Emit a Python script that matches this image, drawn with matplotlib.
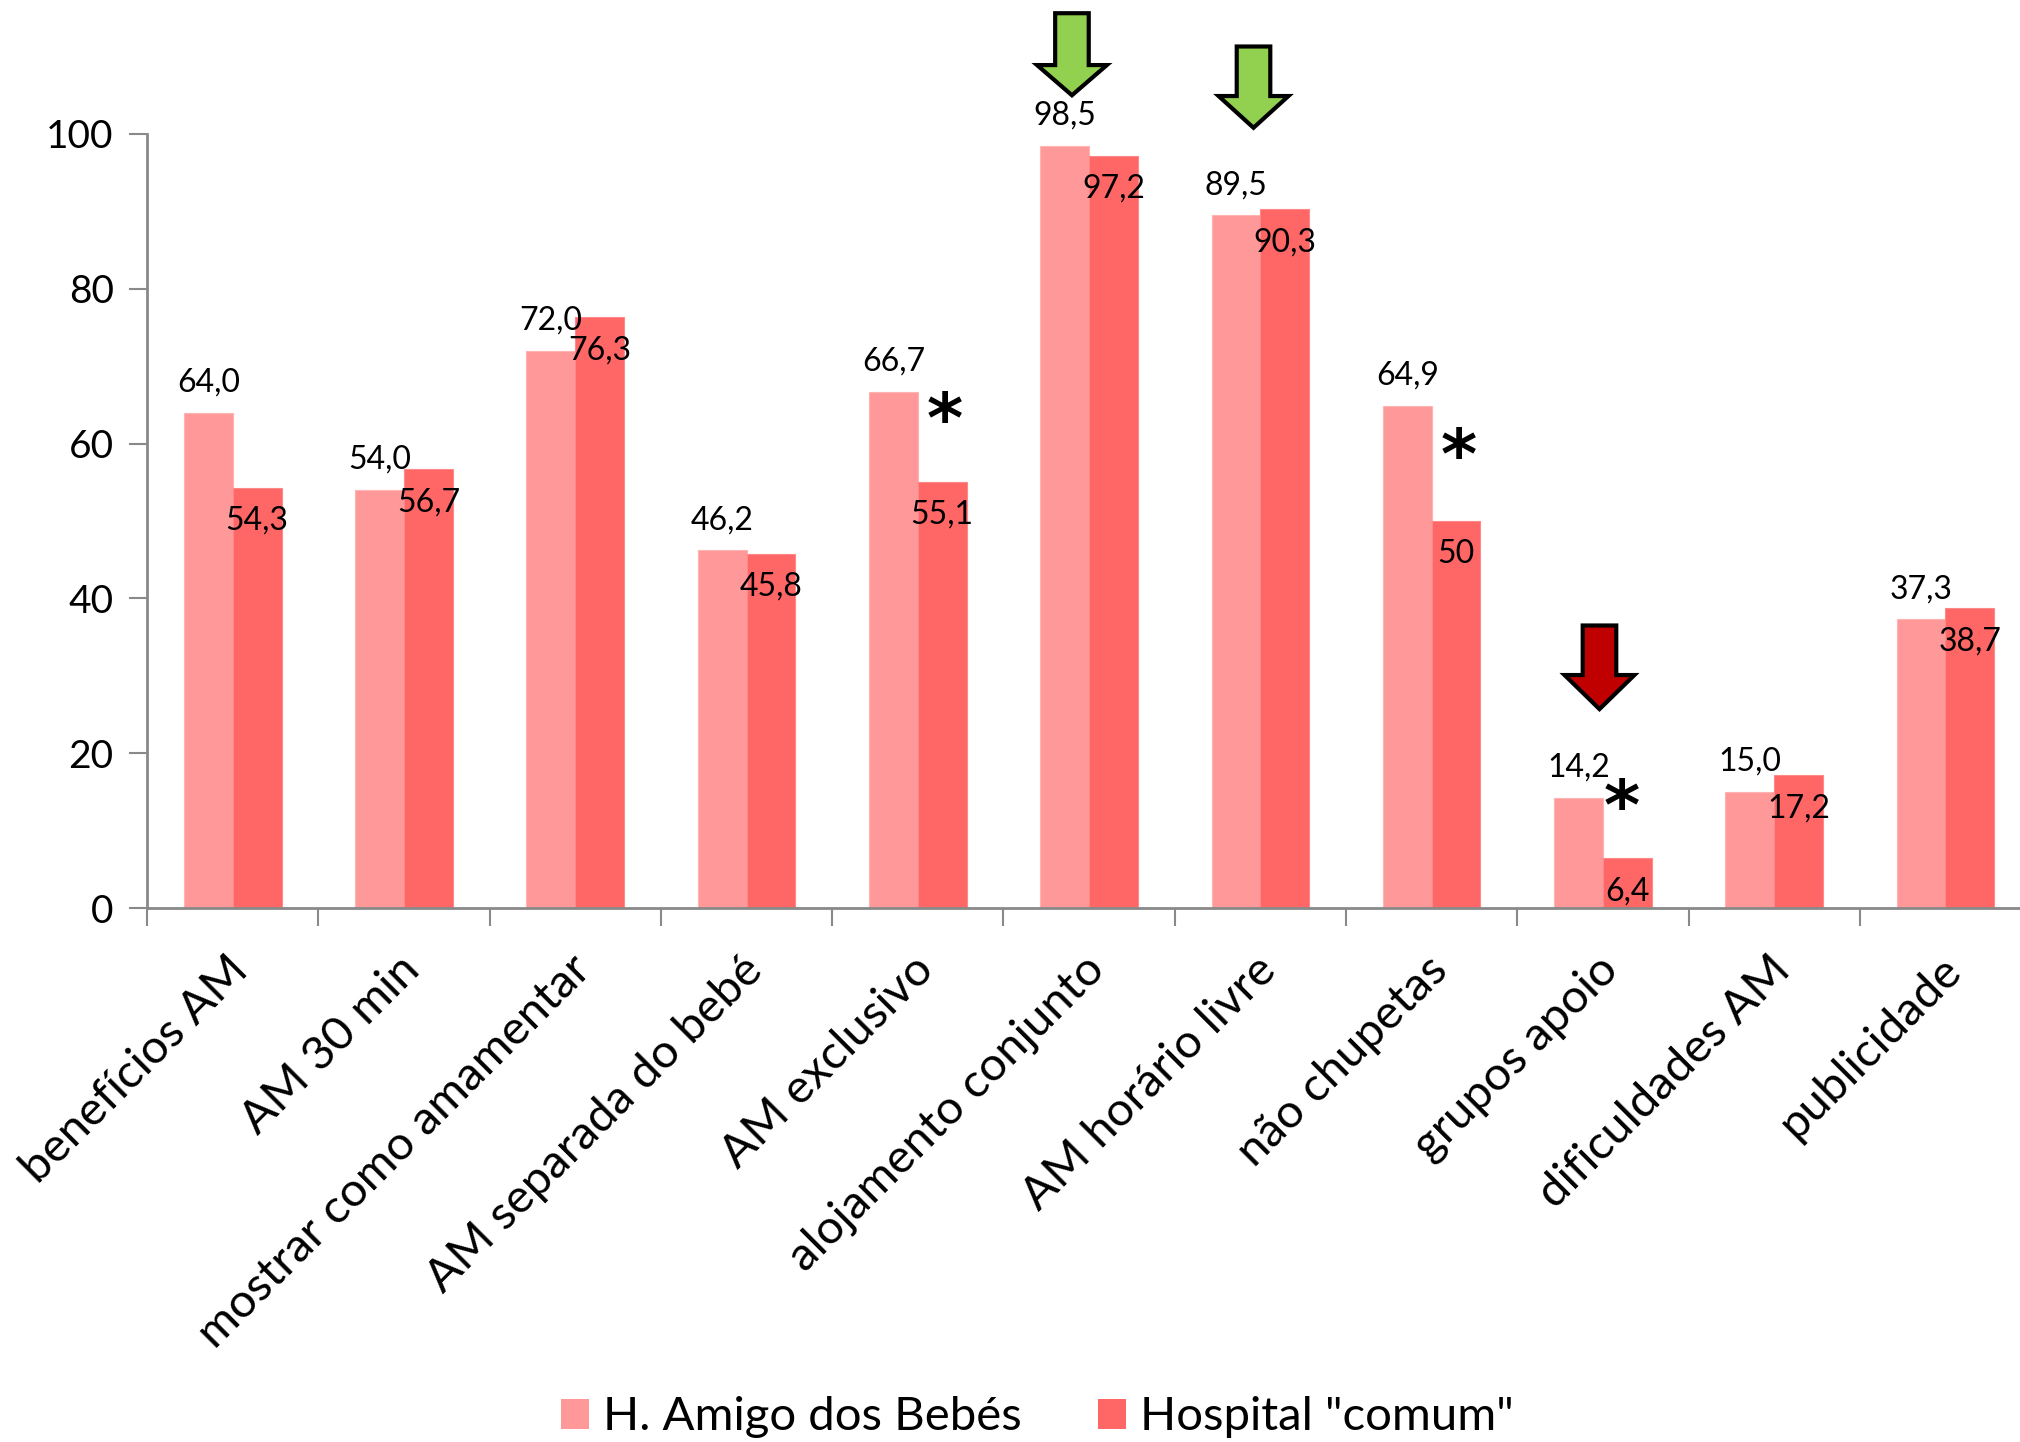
import matplotlib
matplotlib.use("Agg")
import matplotlib.pyplot as plt
import numpy as np
from matplotlib.patches import Patch, Polygon
from matplotlib.transforms import ScaledTranslation

plt.rcParams['font.family'] = ['Lato', 'DejaVu Sans']

categories = ["benefícios AM", "AM 30 min", "mostrar como amamentar",
              "AM separada do bebé", "AM exclusivo", "alojamento conjunto",
              "AM horário livre", "não chupetas", "grupos apoio",
              "dificuldades AM", "publicidade"]
amigo = [64.0, 54.0, 72.0, 46.2, 66.7, 98.5, 89.5, 64.9, 14.2, 15.0, 37.3]
comum = [54.3, 56.7, 76.3, 45.8, 55.1, 97.2, 90.3, 50.0, 6.4, 17.2, 38.7]
amigo_labels = ["64,0", "54,0", "72,0", "46,2", "66,7", "98,5", "89,5", "64,9", "14,2", "15,0", "37,3"]
comum_labels = ["54,3", "56,7", "76,3", "45,8", "55,1", "97,2", "90,3", "50", "6,4", "17,2", "38,7"]
series_names = ["H. Amigo dos Bebés", 'Hospital "comum"']

# significance markers: (category index, x shift, height)
stars = [(4, 0.16, 64.9), (7, 0.16, 60.3), (8, 0.11, 14.9)]
# highlight arrows: (category index, x shift, top, neck, tip, colour)
arrows = [(5, -0.10, 115.6, 108.9, 105.0, "#92D050"),
          (6, -0.04, 111.3, 104.9, 100.8, "#92D050"),
          (8, -0.02, 36.5, 30.1, 25.7, "#C00000")]

c_light = "#FF9999"
c_dark = "#FF6666"
axis_grey = "#898989"

fig = plt.figure(figsize=(20.2, 14.42), dpi=100)
ax = fig.add_axes([0.0728, 0.3703, 0.9327, 0.5368])

x = np.arange(len(categories))
w = 0.285
ax.bar(x - w / 2, amigo, w, color=c_light, edgecolor="#FFB3B3", linewidth=0.8, zorder=2)
ax.bar(x + w / 2, comum, w, color=c_dark, edgecolor="#FF8888", linewidth=0.8, zorder=2)

for i in range(len(categories)):
    ax.text(x[i] - w / 2, amigo[i] + 3.9, amigo_labels[i], ha="center", va="center",
            fontsize=23, zorder=4, clip_on=False)
    ax.text(x[i] + w / 2, comum[i] - 4.3, comum_labels[i], ha="center", va="center",
            fontsize=23, zorder=4)

for i, dx, h in stars:
    ax.text(x[i] + dx, h - 2.2, "*", ha="center", va="center", fontsize=50,
            fontweight="bold", family="DejaVu Sans", zorder=4)

sw, hw = 0.098, 0.204
for i, dx, top, neck, tip, col in arrows:
    cx = x[i] + dx
    pts = [(cx - sw, top), (cx + sw, top), (cx + sw, neck), (cx + hw, neck),
           (cx, tip), (cx - hw, neck), (cx - sw, neck)]
    ax.add_patch(Polygon(pts, closed=True, facecolor=col, edgecolor="black",
                         linewidth=3, joinstyle="miter", clip_on=False, zorder=5))

ax.set_xlim(-0.5, len(categories) - 0.5)
ax.set_ylim(0, 100)
ax.set_yticks(np.arange(0, 101, 20))
ax.tick_params(axis="y", labelsize=28, length=13, width=1.5, color=axis_grey, pad=11)

# group separators as major ticks, category names as minor tick labels
ax.set_xticks(np.arange(-0.5, len(categories), 1.0))
ax.set_xticklabels([])
ax.set_xticks(x, minor=True)
ax.set_xticklabels(categories, minor=True, rotation=45, ha="right",
                   rotation_mode="anchor", fontsize=34)
ax.tick_params(axis="x", which="major", length=13, width=1.5, color=axis_grey, direction="out")
ax.tick_params(axis="x", which="minor", length=0, pad=29)
shift = ScaledTranslation(-6 / 100, 0, fig.dpi_scale_trans)
for lab in ax.get_xticklabels(minor=True):
    lab.set_va("top")
    lab.set_transform(lab.get_transform() + shift)

for s in ("top", "right"):
    ax.spines[s].set_visible(False)
for s in ("left", "bottom"):
    ax.spines[s].set_color(axis_grey)
    ax.spines[s].set_linewidth(2)

handles = [Patch(facecolor=c_light, edgecolor="none"), Patch(facecolor=c_dark, edgecolor="none")]
fig.legend(handles, series_names, loc="center", bbox_to_anchor=(0.5136, 0.017),
           ncol=2, frameon=False, fontsize=34, handlelength=0.6, handleheight=0.6,
           handletextpad=0.3, columnspacing=1.6)

fig.savefig("out.png", dpi=100)
